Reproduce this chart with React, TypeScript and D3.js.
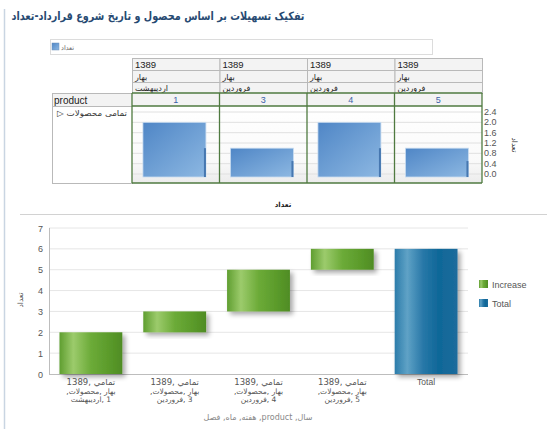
import React from "react";
import * as d3 from "d3";

const RLE = "\u202B";
const PDF = "\u202C";
const rtl = (s: string) => RLE + s + PDF;

const titleText = "تفکیک تسهیلات بر اساس محصول و تاریخ شروع قرارداد-تعداد";
const measureName = "تعداد";
const productCols = ["1", "3", "4", "5"];
const yearRow = ["1389", "1389", "1389", "1389"];
const seasonRow = ["بهار", "بهار", "بهار", "بهار"];
const monthRow = ["اردیبهشت", "فروردین", "فروردین", "فروردین"];
const counts = [2, 1, 2, 1];
const topTicks = [0, 0.4, 0.8, 1.2, 1.6, 2.0, 2.4];
const bottomTicks = [0, 1, 2, 3, 4, 5, 6, 7];
const wfLabels = [
  ["تمامي ,1389", "بهار ,محصولات,", "1 ,اردیبهشت"],
  ["تمامي ,1389", "بهار ,محصولات,", "3 ,فروردین"],
  ["تمامي ,1389", "بهار ,محصولات,", "4 ,فروردین"],
  ["تمامي ,1389", "بهار ,محصولات,", "5 ,فروردین"],
  ["Total"],
];
const wfCats = ["c1", "c3", "c4", "c5", "Total"];
const legendItems = ["Increase", "Total"];
const xAxisTitle = "سال, product, هفته, ماه, فصل";
const rowHeaderLabel = "product";
const rowMember = "تمامی محصولات ▷";

const FONT = "'Liberation Sans', 'DejaVu Sans', sans-serif";
const AFONT = "'DejaVu Sans', sans-serif";

export default function App() {
  const colX = d3.scaleBand<string>().domain(productCols).range([132, 482]);
  const bw = colX.bandwidth();
  const yTop = d3.scaleLinear().domain([0, 2.4]).range([174, 112]);
  const rows = [58, 70, 82, 93, 106, 183];

  const xB = d3.scaleBand<string>().domain(wfCats).range([49, 468]).paddingInner(0.25).paddingOuter(0.125);
  const yB = d3.scaleLinear().domain([0, 7]).range([374, 228]);
  let cum = 0;
  const wf = counts.map((c, i) => {
    const s = cum;
    cum += c;
    return { cat: wfCats[i], start: s, end: cum, total: false };
  });
  wf.push({ cat: "Total", start: 0, end: cum, total: true });

  return (
    <svg width={547} height={429} style={{ position: "absolute", left: 0, top: 0, background: "#fff" }} fontFamily={FONT}>
      <defs>
        <linearGradient id="gGreen" x1="0" x2="1" y1="0" y2="0">
          <stop offset="0" stopColor="#5f9e30" />
          <stop offset="0.22" stopColor="#9ccb6c" />
          <stop offset="0.5" stopColor="#6cab38" />
          <stop offset="0.8" stopColor="#5a9a2a" />
          <stop offset="1" stopColor="#4f8c24" />
        </linearGradient>
        <linearGradient id="gBlue" x1="0" x2="1" y1="0" y2="0">
          <stop offset="0" stopColor="#2c7caa" />
          <stop offset="0.2" stopColor="#5fa2c6" />
          <stop offset="0.45" stopColor="#2878a8" />
          <stop offset="0.7" stopColor="#0f6798" />
          <stop offset="1" stopColor="#1c6c9c" />
        </linearGradient>
        <linearGradient id="gTop" x1="0" x2="1" y1="0" y2="1">
          <stop offset="0" stopColor="#4f86c6" />
          <stop offset="1" stopColor="#8db8e2" />
        </linearGradient>
        <linearGradient id="gCell" x1="0" x2="0" y1="0" y2="1">
          <stop offset="0" stopColor="#ffffff" />
          <stop offset="0.7" stopColor="#fafafa" />
          <stop offset="1" stopColor="#ececec" />
        </linearGradient>
        <filter id="shadow" x="-20%" y="-20%" width="150%" height="150%">
          <feGaussianBlur in="SourceAlpha" stdDeviation="2.5" />
          <feOffset dx="3" dy="3" result="b" />
          <feComponentTransfer>
            <feFuncA type="linear" slope="0.35" />
          </feComponentTransfer>
          <feMerge>
            <feMergeNode />
            <feMergeNode in="SourceGraphic" />
          </feMerge>
        </filter>
      </defs>

      <line x1={4.5} x2={4.5} y1={9} y2={429} stroke="#c9d5e2" strokeWidth={1.5} />

      <text x={158} y={20} textAnchor="middle" fontSize={11.5} fontWeight="bold" fill="#274a72" fontFamily={AFONT} textLength={293} lengthAdjust="spacingAndGlyphs">
        {rtl(titleText)}
      </text>

      <rect x={50.5} y={39.5} width={382} height={15} fill="#fff" stroke="#dcdcdc" />
      <rect x={52} y={43} width={7} height={7} fill="url(#gTop)" stroke="#6d8fb8" strokeWidth={0.5} />
      <text x={61} y={49.5} fontSize={6.5} fill="#666" fontFamily={AFONT}>{measureName}</text>

      {productCols.map((p, i) => {
        const x0 = colX(p)!;
        return (
          <g key={p}>
            {[yearRow[i], seasonRow[i], monthRow[i]].map((t, r) => (
              <g key={r}>
                <rect x={x0 + 0.5} y={rows[r] + 0.5} width={bw} height={rows[r + 1] - rows[r]} fill="#f3f3f3" stroke="#b9b9b9" />
                <text x={x0 + 3} y={rows[r + 1] - 2.5} fontSize={r === 0 ? 9.5 : 8} fill="#222" fontFamily={r === 0 ? FONT : AFONT}>
                  {t}
                </text>
              </g>
            ))}
          </g>
        );
      })}

      <rect x={52.5} y={93.5} width={80} height={13} fill="#f3f3f3" stroke="#b9b9b9" />
      <text x={54} y={103.5} fontSize={10} fill="#222">{rowHeaderLabel}</text>
      <rect x={52.5} y={106.5} width={80} height={77} fill="#fff" stroke="#b9b9b9" />
      <text x={92} y={116} textAnchor="middle" fontSize={8} fill="#333" fontFamily={AFONT} textLength={70} lengthAdjust="spacingAndGlyphs">{rtl(rowMember)}</text>

      {productCols.map((p, i) => {
        const x0 = colX(p)!;
        const bx = x0 + bw * 0.125;
        const bwid = bw * 0.72;
        return (
          <g key={"c" + p}>
            <rect x={x0} y={93} width={bw} height={13} fill="#f3f3f3" />
            <text x={x0 + bw / 2} y={103} textAnchor="middle" fontSize={9} fill="#3a62a8">{p}</text>
            <rect x={x0} y={106} width={bw} height={77} fill="url(#gCell)" />
            {topTicks.map((t) => (
              <line key={t} x1={x0} x2={x0 + bw} y1={yTop(t)} y2={yTop(t)} stroke="#e0e0e0" />
            ))}
            <rect x={bx} y={yTop(counts[i])} width={bwid} height={yTop(0) + 3 - yTop(counts[i])} fill="url(#gTop)" stroke="#c9dcf0" strokeWidth={0.8} />
            <rect x={bx + bwid - 2} y={yTop(counts[i] / 2)} width={2} height={yTop(0) + 3 - yTop(counts[i] / 2)} fill="#4677b0" />
          </g>
        );
      })}
      <line x1={132} x2={482} y1={93} y2={93} stroke="#4f7a40" strokeWidth={1.3} />
      <line x1={132} x2={482} y1={106} y2={106} stroke="#4f7a40" strokeWidth={1.3} />
      <line x1={132} x2={482} y1={183} y2={183} stroke="#4f7a40" strokeWidth={1.3} />
      {[...productCols.map((p) => colX(p)!), 482].map((x, i) => (
        <line key={i} x1={x} x2={x} y1={93} y2={183} stroke="#4f7a40" strokeWidth={1.3} />
      ))}

      {topTicks.map((t) => (
        <text key={t} x={484} y={yTop(t) + 3} fontSize={9} fill="#555">{t.toFixed(1)}</text>
      ))}
      <text transform="translate(512,145) rotate(90)" textAnchor="middle" fontSize={7.5} fill="#333" fontFamily={AFONT}>{measureName}</text>

      <text x={283} y={207} textAnchor="middle" fontSize={7} fontWeight="bold" fill="#222" fontFamily={AFONT}>{measureName}</text>
      <line x1={20} x2={547} y1={214.5} y2={214.5} stroke="#d2d2d2" />

      {bottomTicks.map((t) => (
        <g key={t}>
          {t > 0 && <line x1={49} x2={468} y1={yB(t)} y2={yB(t)} stroke="#e6e6e6" />}
          <text x={43} y={yB(t) + 3.5} textAnchor="end" fontSize={9} fill="#555">{t}</text>
        </g>
      ))}
      <line x1={49.5} x2={49.5} y1={228} y2={374} stroke="#bdbdbd" />
      <line x1={49} x2={468} y1={374.5} y2={374.5} stroke="#bdbdbd" />
      <text transform="translate(23,300) rotate(-90)" textAnchor="middle" fontSize={7.5} fill="#555" fontFamily={AFONT}>{measureName}</text>

      {wf.map((d) => (
        <rect key={d.cat} x={xB(d.cat)} y={yB(d.end)} width={xB.bandwidth()} height={yB(d.start) - yB(d.end)} fill={d.total ? "url(#gBlue)" : "url(#gGreen)"} filter="url(#shadow)" />
      ))}

      {wfLabels.map((lines, i) => {
        const cx = xB(wfCats[i])! + xB.bandwidth() / 2;
        return (
          <g key={i}>
            {lines.map((l, j) => (
              <text key={j} x={cx} y={385 + j * 8.5} textAnchor="middle" fontSize={j === 0 ? 8.5 : 7.5} fill="#555" fontFamily={lines.length > 1 ? AFONT : FONT}>
                {lines.length > 1 ? rtl(l) : l}
              </text>
            ))}
          </g>
        );
      })}
      <text x={258} y={420} textAnchor="middle" fontSize={8} fill="#888" fontFamily={AFONT}>{rtl(xAxisTitle)}</text>

      {legendItems.map((l, i) => (
        <g key={l}>
          <rect x={479} y={280 + i * 19} width={9} height={8} fill={i === 0 ? "url(#gGreen)" : "url(#gBlue)"} />
          <text x={492} y={287.5 + i * 19} fontSize={9} fill="#555">{l}</text>
        </g>
      ))}
    </svg>
  );
}
